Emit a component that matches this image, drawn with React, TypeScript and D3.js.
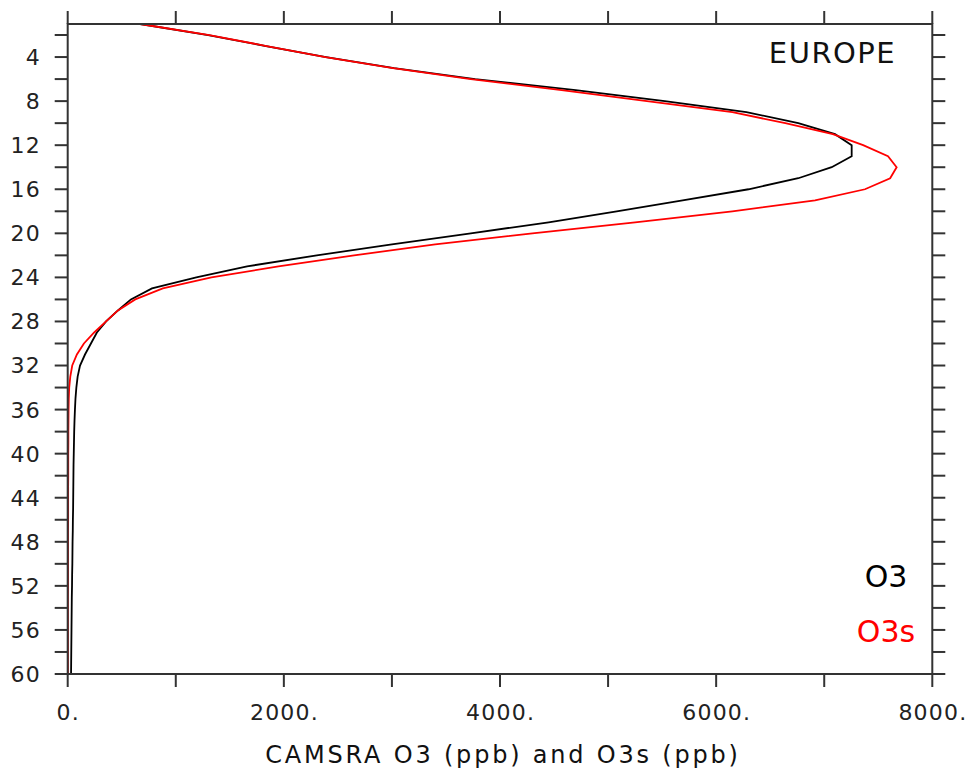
import React from 'react';
import { scaleLinear, line, range } from 'd3';

// model levels, top (1) to bottom (60)
const levels = range(1, 61);

const o3 = [
  670, 1300, 1835, 2390, 3020, 3770, 4700, 5525, 6280, 6760,
  7100, 7254, 7254, 7069, 6760, 6300, 5690, 5080, 4450, 3730,
  3000, 2305, 1660, 1190, 780, 585, 465, 355, 270, 215,
  160, 114, 92, 80, 72, 67, 63, 60, 58, 56,
  54, 53, 52, 51, 50, 48, 47, 45, 44, 43,
  41, 40, 38, 37, 36, 35, 34, 33, 32, 31,
];

const o3s = [
  670, 1310, 1840, 2385, 3010, 3730, 4570, 5360, 6150, 6640,
  7080, 7360, 7590, 7670, 7610, 7377, 6915, 6150, 5250, 4300,
  3400, 2650, 1950, 1330, 880, 625, 465, 355, 245, 150,
  85, 42, 24, 14, 10, 8, 7, 6, 6, 5,
  5, 5, 4, 4, 4, 4, 3, 3, 3, 3,
  3, 3, 2, 2, 2, 2, 2, 2, 2, 2,
];

const yTickLabels = [4, 8, 12, 16, 20, 24, 28, 32, 36, 40, 44, 48, 52, 56, 60];
const xTickLabels = ['0.', '2000.', '4000.', '6000.', '8000.'];

const region = 'EUROPE';
const xTitle = 'CAMSRA O3 (ppb) and O3s (ppb)';
const seriesNames = ['O3', 'O3s'];

const W = 971;
const H = 771;
const left = 67.7;
const right = 932.3;
const top = 24;
const bottom = 674;
const tickLen = 13;
const font = '"DejaVu Sans", sans-serif';
const axisColor = '#333';

const App = () => {
  const x = scaleLinear().domain([0, 8000]).range([left, right]);
  const y = scaleLinear().domain([1, 60]).range([top, bottom]);

  const pathFor = (vals: number[]) =>
    line<number>()
      .x((d) => x(d))
      .y((_, i) => y(levels[i]))(vals) || '';

  const xTicks = range(0, 8001, 1000);
  const yTicks = range(2, 61, 2);

  return (
    <svg width={W} height={H} style={{ position: 'absolute', left: 0, top: 0, background: '#fff' }}>
      {/* curves */}
      <path d={pathFor(o3)} fill="none" stroke="#000" strokeWidth={1.8} />
      <path d={pathFor(o3s)} fill="none" stroke="#ff0000" strokeWidth={1.8} />

      {/* frame */}
      <rect x={left} y={top} width={right - left} height={bottom - top} fill="none" stroke={axisColor} strokeWidth={2} />

      {/* x ticks, bottom and top */}
      {xTicks.map((t) => (
        <g key={'xt' + t}>
          <line x1={x(t)} x2={x(t)} y1={bottom} y2={bottom + tickLen} stroke={axisColor} strokeWidth={2} />
          <line x1={x(t)} x2={x(t)} y1={top} y2={top - tickLen} stroke={axisColor} strokeWidth={2} />
        </g>
      ))}
      {xTickLabels.map((lab, i) => (
        <text key={'xl' + lab} x={x(i * 2000) + 0.6} y={719.5} textAnchor="middle" fontFamily={font} fontSize={22} letterSpacing={1.2} fill="#222">
          {lab}
        </text>
      ))}

      {/* y ticks, left and right */}
      {yTicks.map((t) => (
        <g key={'yt' + t}>
          <line x1={left} x2={left - tickLen} y1={y(t)} y2={y(t)} stroke={axisColor} strokeWidth={2} />
          <line x1={right} x2={right + tickLen} y1={y(t)} y2={y(t)} stroke={axisColor} strokeWidth={2} />
        </g>
      ))}
      {yTickLabels.map((t) => (
        <text key={'yl' + t} x={41} y={y(t)} dy="0.36em" textAnchor="end" fontFamily={font} fontSize={22} letterSpacing={1.2} fill="#222">
          {t}
        </text>
      ))}

      {/* titles */}
      <text x={832.5} y={62.7} textAnchor="middle" fontFamily={font} fontSize={29} letterSpacing={1.5} fill="#111">
        {region}
      </text>
      <text x={503} y={762.5} textAnchor="middle" fontFamily={font} fontSize={24} letterSpacing={2.8} fill="#111">
        {xTitle}
      </text>

      {/* legend */}
      <text x={886} y={587.3} textAnchor="middle" fontFamily={font} fontSize={30} fill="#000">
        {seriesNames[0]}
      </text>
      <text x={886} y={641.7} textAnchor="middle" fontFamily={font} fontSize={30} fill="#ff0000">
        {seriesNames[1]}
      </text>
    </svg>
  );
};

export default App;
